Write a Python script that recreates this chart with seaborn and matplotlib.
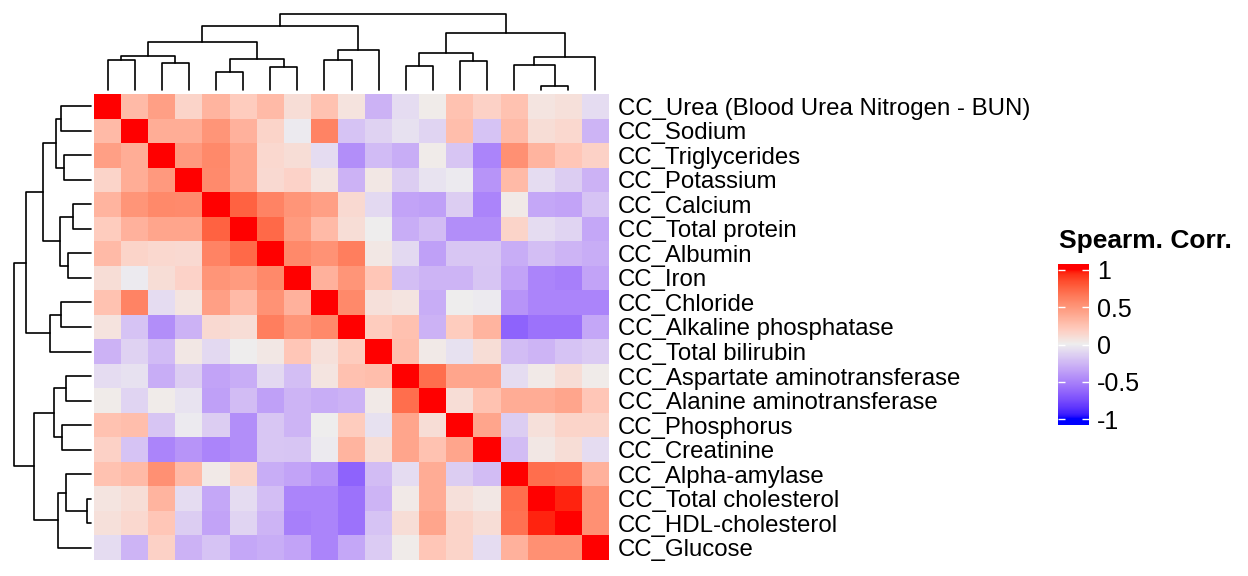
import numpy as np
import pandas as pd
import matplotlib
matplotlib.use("Agg")
import matplotlib.pyplot as plt
import seaborn as sns
from matplotlib.colors import ListedColormap

labels = [
    "CC_Urea (Blood Urea Nitrogen - BUN)", "CC_Sodium", "CC_Triglycerides",
    "CC_Potassium", "CC_Calcium", "CC_Total protein", "CC_Albumin", "CC_Iron",
    "CC_Chloride", "CC_Alkaline phosphatase", "CC_Total bilirubin",
    "CC_Aspartate aminotransferase", "CC_Alanine aminotransferase",
    "CC_Phosphorus", "CC_Creatinine", "CC_Alpha-amylase",
    "CC_Total cholesterol", "CC_HDL-cholesterol", "CC_Glucose",
]

# lower triangle of the spearman matrix, rows in plotted order
corr_lower = [
    [1],
    [0.30, 1],
    [0.45, 0.37, 1],
    [0.15, 0.37, 0.48, 1],
    [0.33, 0.50, 0.57, 0.56, 1],
    [0.20, 0.35, 0.42, 0.42, 0.75, 1],
    [0.30, 0.15, 0.13, 0.12, 0.60, 0.72, 1],
    [0.10, -0.02, 0.10, 0.16, 0.50, 0.47, 0.57, 1],
    [0.25, 0.60, -0.08, 0.06, 0.45, 0.30, 0.52, 0.35, 1],
    [0.07, -0.20, -0.45, -0.28, 0.12, 0.10, 0.62, 0.50, 0.57, 1],
    [-0.28, -0.13, -0.24, 0.04, -0.10, 0.00, 0.04, 0.23, 0.08, 0.20, 1],
    [-0.08, -0.06, -0.30, -0.15, -0.35, -0.30, -0.10, -0.22, 0.06, 0.26, 0.28, 1],
    [0.02, -0.12, 0.02, -0.05, -0.36, -0.23, -0.36, -0.27, -0.30, -0.28, 0.03, 0.70, 1],
    [0.25, 0.28, -0.19, -0.02, -0.15, -0.45, -0.18, -0.27, 0.00, 0.20, -0.06, 0.42, 0.10, 1],
    [0.17, -0.20, -0.50, -0.42, -0.50, -0.45, -0.18, -0.19, -0.02, 0.33, 0.10, 0.42, 0.25, 0.42, 1],
    [0.25, 0.30, 0.53, 0.30, 0.03, 0.15, -0.30, -0.35, -0.42, -0.65, -0.23, -0.08, 0.38, -0.15, -0.23, 1],
    [0.06, 0.10, 0.33, -0.08, -0.33, -0.08, -0.22, -0.50, -0.50, -0.58, -0.27, 0.03, 0.38, 0.08, 0.04, 0.70, 1],
    [0.08, 0.13, 0.23, -0.15, -0.35, -0.12, -0.27, -0.52, -0.50, -0.58, -0.20, 0.10, 0.42, 0.15, 0.10, 0.68, 0.96, 1],
    [-0.08, -0.27, 0.17, -0.28, -0.20, -0.33, -0.30, -0.35, -0.50, -0.33, -0.16, 0.02, 0.23, 0.15, -0.08, 0.35, 0.53, 0.53, 1],
]

# hierarchical merges (a, b, height); ids >= 19 are earlier merges
merges = [
    (0, 1, 89), (2, 3, 80), (19, 20, 103), (4, 5, 54), (6, 7, 69),
    (22, 23, 93), (21, 24, 143), (8, 9, 89), (26, 10, 121), (25, 27, 193),
    (11, 12, 73), (13, 14, 86), (29, 30, 111), (16, 17, 12), (15, 32, 74),
    (33, 18, 99), (31, 34, 170), (28, 35, 228),
]

n = len(labels)
mat = np.zeros((n, n))
for i, row in enumerate(corr_lower):
    for j, v in enumerate(row):
        mat[i, j] = v
        mat[j, i] = v
df = pd.DataFrame(mat, index=labels, columns=labels)


# blue - grey - red ramp interpolated in LAB, like colorRamp2
WHITE = np.array([0.95047, 1.0, 1.08883])
M = np.array([[0.4124, 0.3576, 0.1805],
              [0.2126, 0.7152, 0.0722],
              [0.0193, 0.1192, 0.9505]])


def hex_to_lab(h):
    rgb = np.array([int(h[k:k + 2], 16) / 255 for k in (1, 3, 5)])
    lin = np.where(rgb <= 0.04045, rgb / 12.92, ((rgb + 0.055) / 1.055) ** 2.4)
    xyz = M @ lin / WHITE
    d = 6 / 29
    f = np.where(xyz > d ** 3, np.cbrt(xyz), xyz / (3 * d * d) + 4 / 29)
    return np.array([116 * f[1] - 16, 500 * (f[0] - f[1]), 200 * (f[1] - f[2])])


def lab_to_rgb(lab):
    fy = (lab[0] + 16) / 116
    f = np.array([fy + lab[1] / 500, fy, fy - lab[2] / 200])
    d = 6 / 29
    xyz = np.where(f > d, f ** 3, 3 * d * d * (f - 4 / 29)) * WHITE
    lin = np.clip(np.linalg.solve(M, xyz), 0, 1)
    rgb = np.where(lin <= 0.0031308, 12.92 * lin, 1.055 * lin ** (1 / 2.4) - 0.055)
    return np.clip(rgb, 0, 1)


lab_b, lab_m, lab_r = hex_to_lab("#0000FF"), hex_to_lab("#EEEEEE"), hex_to_lab("#FF0000")
ramp = []
for v in np.linspace(-1, 1, 256):
    if v < 0:
        lab = lab_m * (1 + v) + lab_b * (-v)
    else:
        lab = lab_m * (1 - v) + lab_r * v
    ramp.append(lab_to_rgb(lab))
cmap = ListedColormap(ramp)

sns.set_theme(style="white")
plt.rcParams["font.family"] = ["Liberation Sans", "DejaVu Sans"]
plt.rcParams["text.color"] = "black"

W, H = 1248, 576
fig = plt.figure(figsize=(W / 100, H / 100), dpi=100)


def box(x0, y0, x1, y1):
    return [x0 / W, 1 - y1 / H, (x1 - x0) / W, (y1 - y0) / H]


ax = fig.add_axes(box(94, 94, 609, 560))
sns.heatmap(df, ax=ax, cmap=cmap, vmin=-1, vmax=1, cbar=False,
            xticklabels=False, yticklabels=True, linewidths=0)
ax.yaxis.tick_right()
ax.set_ylabel("")
ax.tick_params(axis="y", length=0, pad=6.5, labelsize=17.3, labelrotation=0,
               labelcolor="black")


def dendro_segments(merges, n):
    pos = {i: i + 0.5 for i in range(n)}
    hgt = {i: 0.0 for i in range(n)}
    segs = []
    for k, (a, b, h) in enumerate(merges):
        segs.append(([pos[a], pos[a], pos[b], pos[b]], [hgt[a], h, h, hgt[b]]))
        pos[n + k] = (pos[a] + pos[b]) / 2
        hgt[n + k] = h
    return segs


segs = dendro_segments(merges, n)
top_h = max(m[2] for m in merges)

ax_top = fig.add_axes(box(94, 14, 609, 90))
for xs, ys in segs:
    ax_top.plot(xs, ys, color="black", lw=1.2, clip_on=False)
ax_top.set_xlim(0, n)
ax_top.set_ylim(0, top_h)
ax_top.axis("off")

ax_left = fig.add_axes(box(14, 94, 91, 560))
for xs, ys in segs:
    ax_left.plot(ys, xs, color="black", lw=1.2, clip_on=False)
ax_left.set_ylim(n, 0)
ax_left.set_xlim(top_h, 0)
ax_left.axis("off")

# colour legend
lim = 1.08
ax_leg = fig.add_axes(box(1058, 264, 1089, 425))
grad = np.linspace(-lim, lim, 300)[:, None]
ax_leg.imshow(grad, cmap=cmap, vmin=-1, vmax=1, aspect="auto", origin="lower",
              extent=[0, 1, -lim, lim])
ax_leg.set_xticks([])
ax_leg.set_yticks([-1, -0.5, 0, 0.5, 1])
ax_leg.set_yticklabels(["-1", "-0.5", "0", "0.5", "1"])
ax_leg.yaxis.tick_right()
ax_leg.tick_params(axis="y", direction="in", color="white", length=5, width=1,
                   left=True, right=True, labelleft=False, labelright=True,
                   pad=5.8, labelsize=18, labelcolor="black")
for s in ax_leg.spines.values():
    s.set_visible(False)
fig.text(1059 / W, 1 - 248 / H, "Spearm. Corr.", fontsize=19, color="black",
         fontweight="bold", va="baseline", ha="left")

fig.savefig("out.png", dpi=100)
plt.close(fig)
